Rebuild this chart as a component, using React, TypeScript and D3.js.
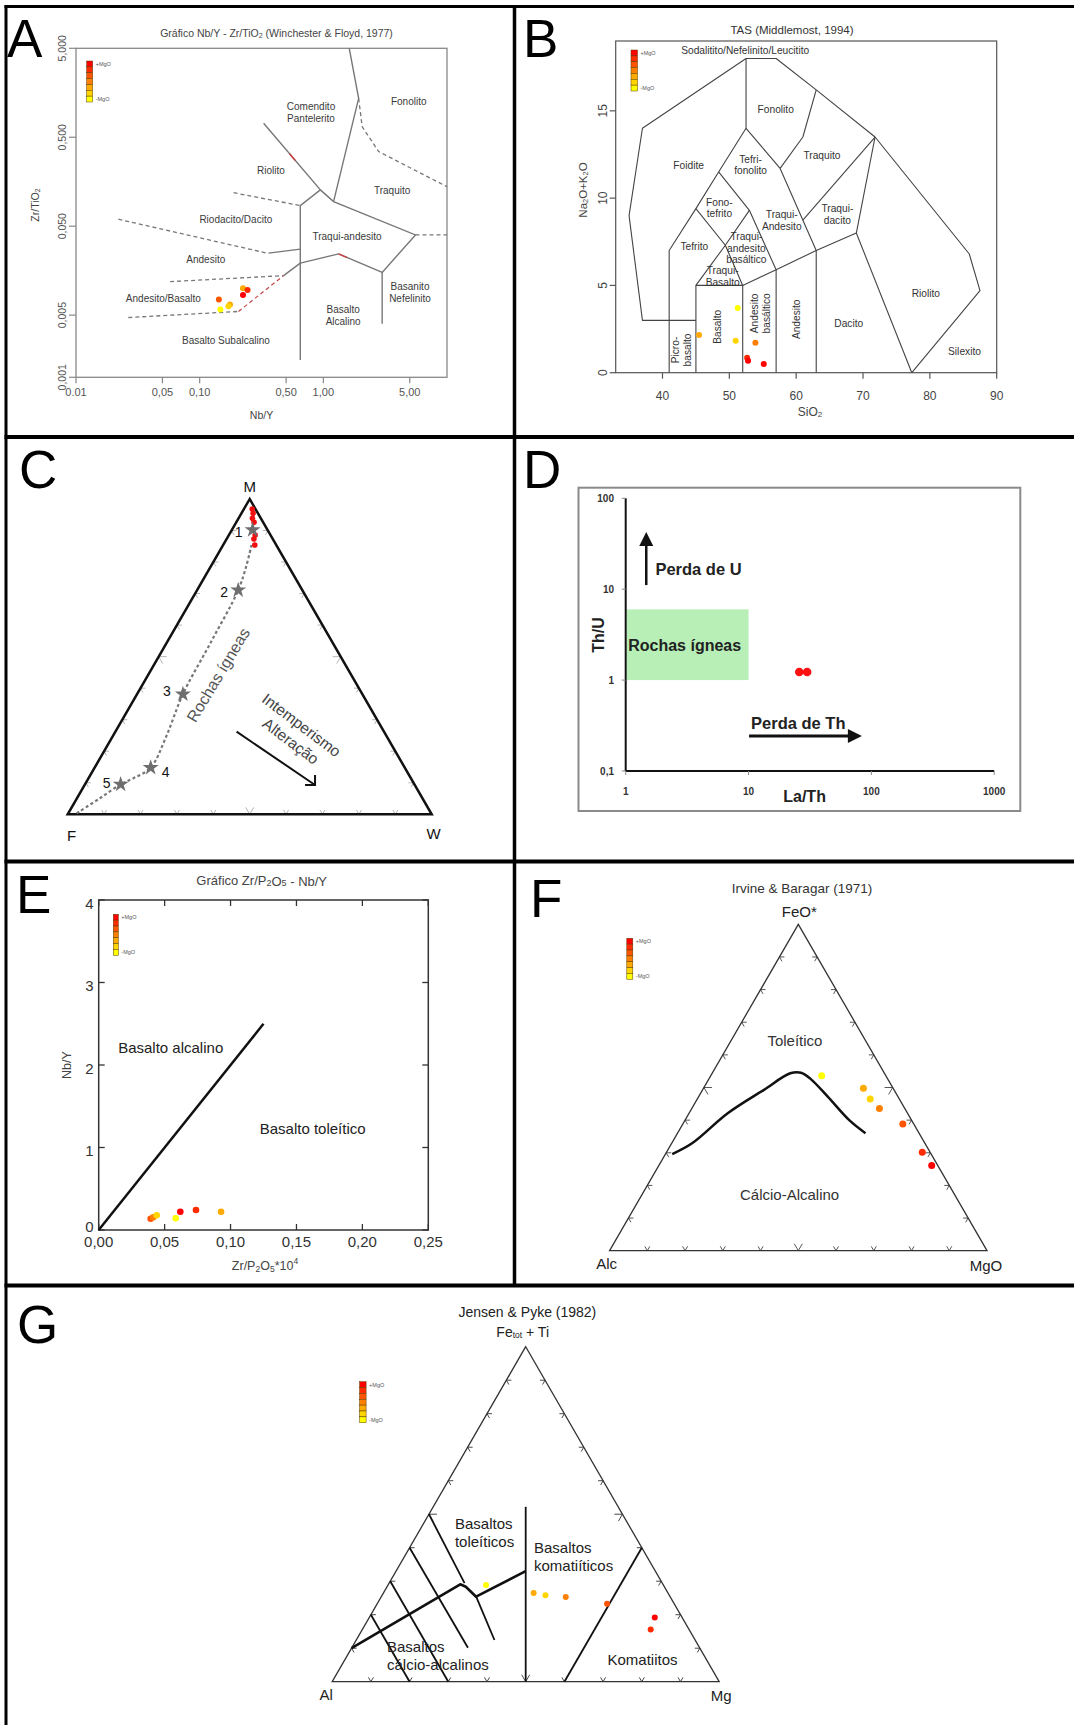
import React from "react";
import * as d3 from "d3";

type Pt = [number, number];

const FONT = "'Liberation Sans', Arial, Helvetica, sans-serif";
const WIDTH = 1074;
const HEIGHT = 1725;

// MgO ranking shared by the colour-coded diagrams: 0 = richest in MgO (red) ... 6 = poorest (yellow)
const mgoLevels = [0, 1, 2, 3, 4, 5, 6];
const mgoColor = d3.scaleLinear<string>().domain([0, 6]).range(["#ff0000", "#ffff00"]).interpolate(d3.interpolateRgb);

// ---------- A: Nb/Y x Zr/TiO2 (Winchester & Floyd, 1977) ----------
const aNbY = [0.224, 0.244, 0.224, 0.143, 0.176, 0.171, 0.147];
const aZrTiO2 = [0.01, 0.0096, 0.0084, 0.0075, 0.0066, 0.0063, 0.0058];
const aMgoRank = [4, 1, 0, 2, 4, 5, 6];
const aXTicks = [0.01, 0.05, 0.1, 0.5, 1, 5];
const aXTickLabels = ["0.01", "0,05", "0,10", "0,50", "1,00", "5,00"];
const aYTicks = [5, 0.5, 0.05, 0.005, 0.001];
const aYTickLabels = ["5,000", "0,500", "0,050", "0,005", "0,001"];
const aSolidLines: Pt[][] = [
  [[1.62, 5], [1.93, 1.37], [1.21, 0.0945]],
  [[0.329, 0.718], [0.946, 0.128], [0.651, 0.0852], [0.651, 0.00157]],
  [[0.946, 0.128], [1.21, 0.0945], [5.56, 0.0399], [2.99, 0.0151], [2.99, 0.004]],
  [[0.651, 0.0192], [1.33, 0.0244], [2.99, 0.0151]],
  [[0.36, 0.0249], [0.651, 0.0276]],
  [[0.477, 0.0139], [0.651, 0.0192]],
];
const aDashedLines: Pt[][] = [
  [[1.93, 1.37], [2.06, 0.658], [2.8, 0.345], [10, 0.139]],
  [[0.188, 0.119], [0.651, 0.0852]],
  [[5.56, 0.0399], [10, 0.0399]],
  [[0.022, 0.0599], [0.35, 0.0249]],
  [[0.0577, 0.0119], [0.477, 0.0139]],
  [[0.0265, 0.0047], [0.206, 0.0055]],
];
const aRedDashed: Pt[] = [[0.206, 0.0055], [0.477, 0.0139]];
const aRedMarks: Pt[][] = [
  [[0.533, 0.326], [0.593, 0.274]],
  [[1.33, 0.0244], [1.556, 0.0222]],
];
const aFieldLabels = [
  { lines: ["Comendito", "Pantelerito"], x: 0.795, y: 0.957 },
  { lines: ["Fonolito"], x: 4.9, y: 1.256 },
  { lines: ["Riolito"], x: 0.377, y: 0.211 },
  { lines: ["Traquito"], x: 3.6, y: 0.1256 },
  { lines: ["Riodacito/Dacito"], x: 0.196, y: 0.0589 },
  { lines: ["Traqui-andesito"], x: 1.555, y: 0.0382 },
  { lines: ["Andesito"], x: 0.112, y: 0.0213 },
  { lines: ["Andesito/Basalto"], x: 0.0509, y: 0.00776 },
  { lines: ["Basanito", "Nefelinito"], x: 5.02, y: 0.00894 },
  { lines: ["Basalto", "Alcalino"], x: 1.446, y: 0.00497 },
  { lines: ["Basalto Subalcalino"], x: 0.163, y: 0.00257 },
];

// ---------- B: TAS (Middlemost, 1994) ----------
const bSiO2 = [51.25, 50.95, 45.47, 53.9, 52.66, 52.8, 55.15];
const bAlkalis = [3.7, 1.83, 2.16, 1.72, 0.86, 0.69, 0.5];
const bMgoRank = [6, 5, 4, 3, 1, 0, 0];
const bXTicks = [40, 50, 60, 70, 80, 90];
const bYTicks = [0, 5, 10, 15];
const bFieldLines: Pt[][] = [
  [[45, 3], [37, 3], [35, 9], [37, 14], [52.5, 18], [57, 18], [63, 16.2], [71.8, 13.5], [85.9, 6.8], [87.5, 4.7], [77.3, 0]],
  [[52.5, 18], [52.5, 14], [48.4, 11.5], [45, 9.4], [41, 7], [41, 0]],
  [[52.5, 14], [57.6, 11.7], [63, 7], [63, 0]],
  [[57.6, 11.7], [61, 13.5], [63, 16.2]],
  [[48.4, 11.5], [53, 9.3], [57, 5.9], [57, 0]],
  [[45, 9.4], [49.4, 7.3], [53, 9.3]],
  [[49.4, 7.3], [45, 5], [52, 5], [49.4, 7.3]],
  [[45, 5], [45, 0]],
  [[52, 5], [52, 0]],
  [[52, 5], [57, 5.9], [63, 7], [69, 8], [71.8, 13.5]],
  [[69, 8], [77.3, 0]],
  [[71.8, 13.5], [61, 8.74]],
];
const bFieldLabels = [
  { lines: ["Sodalitito/Nefelinito/Leucitito"], x: 52.37, y: 18.47, rot: 0, lh: 12 },
  { lines: ["Fonolito"], x: 56.94, y: 15.08, rot: 0, lh: 12 },
  { lines: ["Foidite"], x: 43.91, y: 11.89, rot: 0, lh: 12 },
  { lines: ["Tefri-", "fonolito"], x: 53.18, y: 11.89, rot: 0, lh: 11.5 },
  { lines: ["Traquito"], x: 63.85, y: 12.42, rot: 0, lh: 12 },
  { lines: ["Fono-", "tefrito"], x: 48.51, y: 9.43, rot: 0, lh: 11.2 },
  { lines: ["Traqui-", "Andesito"], x: 57.84, y: 8.72, rot: 0, lh: 12.4 },
  { lines: ["Traqui-", "dacito"], x: 66.16, y: 9.07, rot: 0, lh: 11.8 },
  { lines: ["Tefrito"], x: 44.76, y: 7.25, rot: 0, lh: 12 },
  { lines: ["Traqui-", "andesito", "basáltico"], x: 52.55, y: 7.13, rot: 0, lh: 11.5 },
  { lines: ["Traqui-", "Basalto"], x: 49.0, y: 5.5, rot: 0, lh: 12 },
  { lines: ["Riolito"], x: 79.4, y: 4.54, rot: 0, lh: 12 },
  { lines: ["Dacito"], x: 67.87, y: 2.83, rot: 0, lh: 12 },
  { lines: ["Silexito"], x: 85.18, y: 1.24, rot: 0, lh: 12 },
  { lines: ["Picro-", "basalto"], x: 42.81, y: 1.3, rot: -90, lh: 12.5 },
  { lines: ["Basalto"], x: 48.21, y: 2.63, rot: -90, lh: 12 },
  { lines: ["Andesito", "basáltico"], x: 54.68, y: 3.4, rot: -90, lh: 12.2 },
  { lines: ["Andesito"], x: 59.99, y: 3.06, rot: -90, lh: 12 },
];

// ---------- C: M-F-W ternary ----------
const cSampleM = [0.968, 0.955, 0.939, 0.926, 0.886, 0.873, 0.854];
const cSampleW = [0.023, 0.032, 0.038, 0.049, 0.072, 0.075, 0.087];
const cStarM = [0.902, 0.711, 0.381, 0.148, 0.095];
const cStarW = [0.057, 0.113, 0.126, 0.154, 0.098];
const cStarNames = ["1", "2", "3", "4", "5"];
const cTrendM = [0.003, 0.051, 0.095, 0.114, 0.148, 0.245, 0.381, 0.5465, 0.711, 0.791, 0.854];
const cTrendW = [0.023, 0.063, 0.098, 0.123, 0.154, 0.1475, 0.126, 0.1204, 0.113, 0.096, 0.078];
const cArrowM = [0.262, 0.093];
const cArrowW = [0.333, 0.633];

// ---------- D: La/Th x Th/U ----------
const dLaTh = [25.9, 30.0];
const dThU = [1.23, 1.23];
const dXTicks = [1, 10, 100, 1000];
const dXTickLabels = ["1", "10", "100", "1000"];
const dYTicks = [0.1, 1, 10, 100];
const dYTickLabels = ["0,1", "1", "10", "100"];
const dIgneousLaTh = [1, 10];
const dIgneousThU = [1, 6];

// ---------- E: Zr/P2O5 x Nb/Y ----------
const eZrP2O5 = [0.0394, 0.0414, 0.044, 0.0584, 0.0619, 0.0738, 0.0928];
const eNbY = [0.137, 0.154, 0.178, 0.142, 0.222, 0.242, 0.222];
const eMgoRank = [2, 3, 5, 6, 0, 1, 4];
const eXTicks = [0, 0.05, 0.1, 0.15, 0.2, 0.25];
const eXTickLabels = ["0,00", "0,05", "0,10", "0,15", "0,20", "0,25"];
const eYTicks = [0, 1, 2, 3, 4];
const eDivide: Pt[] = [[0, 0], [0.125, 2.5]];

// ---------- F: AFM (Irvine & Baragar, 1971) ----------
const fFeO = [0.536, 0.498, 0.465, 0.436, 0.388, 0.302, 0.261];
const fMgO = [0.294, 0.4235, 0.458, 0.497, 0.583, 0.6775, 0.723];
const fMgoRank = [6, 4, 5, 3, 2, 1, 0];
const fDivideFeO = [0.296, 0.329, 0.421, 0.492, 0.5435, 0.5453, 0.528, 0.472, 0.4, 0.36];
const fDivideMgO = [0.018, 0.054, 0.1025, 0.162, 0.207, 0.2345, 0.267, 0.342, 0.435, 0.498];

// ---------- G: Jensen & Pyke (1982) cation plot ----------
const gFeTi = [0.289, 0.265, 0.258, 0.253, 0.2325, 0.192, 0.156];
const gMg = [0.253, 0.388, 0.422, 0.477, 0.594, 0.7375, 0.745];
const gMgoRank = [6, 4, 5, 3, 2, 0, 1];
// pairs are [Fe+Ti fraction, Mg fraction]
const gFieldLines: Pt[][] = [
  [[0.5, 0], [0.294, 0.195]],
  [[0.254, 0.245], [0.1245, 0.357]],
  [[0.4, 0], [0.1015, 0.3]],
  [[0.3, 0], [0, 0.3]],
  [[0.2, 0], [0, 0.2]],
  [[0.522, 0.239], [0, 0.5]],
  [[0.4, 0.6], [0, 0.6]],
];
const gThCaBoundary: Pt[] = [[0.33, 0.335], [0.2537, 0.245], [0.2836, 0.2034], [0.2907, 0.1856], [0.1, 0]];

const panelLetters = [
  { t: "A", x: 7, y: 57 },
  { t: "B", x: 523, y: 57 },
  { t: "C", x: 19, y: 488 },
  { t: "D", x: 523, y: 488 },
  { t: "E", x: 16, y: 913 },
  { t: "F", x: 530, y: 917 },
  { t: "G", x: 17, y: 1343 },
];

// ---------------------------------------------------------------

function Label({ x, y, lines, size, fill = "#333", lh = 12, rot = 0, weight = "normal", anchor = "middle" }: any) {
  const n = lines.length;
  return (
    <g transform={`translate(${x},${y})${rot ? ` rotate(${rot})` : ""}`}>
      {lines.map((s: any, i: number) => (
        <text
          key={i}
          x={0}
          y={(i - (n - 1) / 2) * lh}
          fontSize={size}
          fill={fill}
          textAnchor={anchor}
          dominantBaseline="central"
          fontFamily={FONT}
          fontWeight={weight}
        >
          {s}
        </text>
      ))}
    </g>
  );
}

function MgoLegend({ x, y, w = 6, h = 41 }: any) {
  const band = d3.scaleBand<number>().domain(mgoLevels).range([y, y + h]);
  return (
    <g>
      {mgoLevels.map((l) => (
        <rect key={l} x={x} y={band(l)} width={w} height={band.bandwidth()} fill={mgoColor(l)} stroke="#5a3a00" strokeWidth={0.5} />
      ))}
      <text x={x + w + 3} y={y + 3} fontSize={5.5} fill="#555" dominantBaseline="central" fontFamily={FONT}>+MgO</text>
      <text x={x + w + 3} y={y + h - 3} fontSize={5.5} fill="#555" dominantBaseline="central" fontFamily={FONT}>-MgO</text>
    </g>
  );
}

function ternary(leftX: number, rightX: number, baseY: number, topY: number) {
  const sx = d3.scaleLinear().domain([0, 1]).range([leftX, rightX]);
  const sy = d3.scaleLinear().domain([0, 1]).range([baseY, topY]);
  return (top: number, right: number): Pt => [sx(right + top / 2), sy(top)];
}

function TernaryFrame({ p, stroke, width, tickColor, tickLen, bigLen, tickWidth }: any) {
  const T: Pt = p(1, 0), L: Pt = p(0, 0), R: Pt = p(0, 1);
  const unit = (a: Pt, b: Pt): Pt => {
    const dx = b[0] - a[0], dy = b[1] - a[1];
    const n = Math.hypot(dx, dy);
    return [dx / n, dy / n];
  };
  const sides: [Pt, Pt, Pt][] = [[L, R, T], [L, T, R], [R, T, L]];
  let d = "";
  sides.forEach(([A, B, O]) => {
    const u1 = unit(A, O), u2 = unit(B, O);
    d3.range(1, 10).forEach((i) => {
      const f = i / 10;
      const q: Pt = [A[0] + (B[0] - A[0]) * f, A[1] + (B[1] - A[1]) * f];
      const l = i === 5 ? bigLen : tickLen;
      d += `M${q[0] + u1[0] * l},${q[1] + u1[1] * l}L${q[0]},${q[1]}L${q[0] + u2[0] * l},${q[1] + u2[1] * l}`;
    });
  });
  return (
    <g>
      <path d={d} fill="none" stroke={tickColor} strokeWidth={tickWidth} />
      <path d={`M${T}L${L}L${R}Z`} fill="none" stroke={stroke} strokeWidth={width} />
    </g>
  );
}

// ---------------------------------------------------------------

function PanelA() {
  const x = d3.scaleLog().domain([0.01, 10]).range([76, 447]);
  const y = d3.scaleLog().domain([0.001, 5]).range([377.3, 48.3]);
  const line = d3.line<Pt>().x((d) => x(d[0])).y((d) => y(d[1]));
  const [x0, x1] = x.range();
  const [y0, y1] = y.range();
  return (
    <g fontFamily={FONT}>
      <text x={(x0 + x1) / 2 + 15} y={33} fontSize={10.5} fill="#444" textAnchor="middle" dominantBaseline="central">
        Gráfico Nb/Y - Zr/TiO<tspan fontSize={7} dy={2}>2</tspan>
        <tspan dy={-2}> (Winchester {"&"} Floyd, 1977)</tspan>
      </text>
      <rect x={x0} y={y1} width={x1 - x0} height={y0 - y1} fill="none" stroke="#888" strokeWidth={1.3} />
      {aSolidLines.map((l, i) => (
        <path key={"s" + i} d={line(l) || ""} fill="none" stroke="#777" strokeWidth={1.4} />
      ))}
      {aDashedLines.map((l, i) => (
        <path key={"d" + i} d={line(l) || ""} fill="none" stroke="#777" strokeWidth={1.3} strokeDasharray="4 3" />
      ))}
      <path d={line(aRedDashed) || ""} fill="none" stroke="#c04848" strokeWidth={1.2} strokeDasharray="4 3" />
      {aRedMarks.map((l, i) => (
        <path key={"r" + i} d={line(l) || ""} fill="none" stroke="#d04040" strokeWidth={1.4} />
      ))}
      {aXTicks.map((t, i) => (
        <g key={"xt" + i}>
          <line x1={x(t)} x2={x(t)} y1={y0} y2={y0 + 6} stroke="#888" strokeWidth={1.2} />
          <text x={x(t)} y={y0 + 15} fontSize={11} fill="#555" textAnchor="middle" dominantBaseline="central">{aXTickLabels[i]}</text>
        </g>
      ))}
      {aYTicks.map((t, i) => (
        <g key={"yt" + i}>
          <line x1={x0 - 7} x2={x0} y1={y(t)} y2={y(t)} stroke="#888" strokeWidth={1.2} />
          <text
            x={x0 - 14}
            y={y(t)}
            fontSize={10.5}
            fill="#555"
            textAnchor="middle"
            dominantBaseline="central"
            transform={`rotate(-90,${x0 - 14},${y(t)})`}
          >
            {aYTickLabels[i]}
          </text>
        </g>
      ))}
      <text x={(x0 + x1) / 2} y={415} fontSize={10.5} fill="#444" textAnchor="middle" dominantBaseline="central">Nb/Y</text>
      <text x={35} y={205} fontSize={10.5} fill="#444" textAnchor="middle" dominantBaseline="central" transform="rotate(-90,35,205)">
        Zr/TiO<tspan fontSize={7} dy={2}>2</tspan>
      </text>
      {aFieldLabels.map((f, i) => (
        <Label key={i} x={x(f.x)} y={y(f.y)} lines={f.lines} size={10} fill="#3a3a3a" lh={12.3} />
      ))}
      <MgoLegend x={86.7} y={61} />
      {aNbY.map((v, i) => (
        <circle key={i} cx={x(v)} cy={y(aZrTiO2[i])} r={3} fill={mgoColor(aMgoRank[i])} />
      ))}
    </g>
  );
}

function PanelB() {
  const x = d3.scaleLinear().domain([33, 90]).range([615.7, 996.7]);
  const y = d3.scaleLinear().domain([0, 19]).range([372.7, 41]);
  const line = d3.line<Pt>().x((d) => x(d[0])).y((d) => y(d[1]));
  const [x0, x1] = x.range();
  const [y0, y1] = y.range();
  return (
    <g fontFamily={FONT}>
      <text x={792} y={30} fontSize={11.5} fill="#333" textAnchor="middle" dominantBaseline="central">TAS (Middlemost, 1994)</text>
      <rect x={x0} y={y1} width={x1 - x0} height={y0 - y1} fill="none" stroke="#555" strokeWidth={1.2} />
      {bFieldLines.map((l, i) => (
        <path key={i} d={line(l) || ""} fill="none" stroke="#444" strokeWidth={1.1} strokeLinejoin="round" />
      ))}
      {bXTicks.map((t) => (
        <g key={"xt" + t}>
          <line x1={x(t)} x2={x(t)} y1={y0} y2={y0 + 6} stroke="#555" strokeWidth={1.2} />
          <text x={x(t)} y={y0 + 23} fontSize={12} fill="#444" textAnchor="middle" dominantBaseline="central">{t}</text>
        </g>
      ))}
      {bYTicks.map((t) => (
        <g key={"yt" + t}>
          <line x1={x0 - 6} x2={x0} y1={y(t)} y2={y(t)} stroke="#555" strokeWidth={1.2} />
          <text x={x0 - 13} y={y(t)} fontSize={12} fill="#444" textAnchor="middle" dominantBaseline="central" transform={`rotate(-90,${x0 - 13},${y(t)})`}>
            {t}
          </text>
        </g>
      ))}
      <text x={810} y={411.7} fontSize={12} fill="#444" textAnchor="middle" dominantBaseline="central">
        SiO<tspan fontSize={8} dy={2.5}>2</tspan>
      </text>
      <text x={582.8} y={190} fontSize={11.5} fill="#444" textAnchor="middle" dominantBaseline="central" transform="rotate(-90,582.8,190)">
        Na<tspan fontSize={7.5} dy={2.5}>2</tspan>
        <tspan dy={-2.5}>O+K</tspan>
        <tspan fontSize={7.5} dy={2.5}>2</tspan>
        <tspan dy={-2.5}>O</tspan>
      </text>
      {bFieldLabels.map((f, i) => (
        <Label key={i} x={x(f.x)} y={y(f.y)} lines={f.lines} rot={f.rot} size={10.2} fill="#333" lh={f.lh} />
      ))}
      <MgoLegend x={631} y={50} w={6.5} />
      {bSiO2.map((v, i) => (
        <circle key={i} cx={x(v)} cy={y(bAlkalis[i])} r={3} fill={mgoColor(bMgoRank[i])} />
      ))}
    </g>
  );
}

function PanelC() {
  const p = ternary(67.7, 431.7, 814.3, 499);
  const T = p(1, 0), L = p(0, 0), R = p(0, 1);
  const trend = d3
    .line<number>()
    .x((_, i) => p(cTrendM[i], cTrendW[i])[0])
    .y((_, i) => p(cTrendM[i], cTrendW[i])[1])
    .curve(d3.curveCatmullRom.alpha(0.5));
  const star = d3.symbol().type(d3.symbolStar).size(80)();
  const numOffsets: Pt[] = [[-14, 2], [-14, 2], [-16, -3], [15, 4], [-14, -1]];
  const a0 = p(cArrowM[0], cArrowW[0]);
  const a1 = p(cArrowM[1], cArrowW[1]);
  const rl = p(0.442, 0.193);
  const it = p(0.283, 0.501);
  const al = p(0.232, 0.497);
  return (
    <g fontFamily={FONT}>
      <TernaryFrame p={p} stroke="#111" width={2.5} tickColor="#b5b5b5" tickWidth={1} tickLen={5} bigLen={8} />
      <text x={T[0]} y={T[1] - 13} fontSize={15} fill="#111" textAnchor="middle" dominantBaseline="central">M</text>
      <text x={L[0] + 4} y={L[1] + 21} fontSize={15} fill="#111" textAnchor="middle" dominantBaseline="central">F</text>
      <text x={R[0] + 2} y={R[1] + 19} fontSize={15} fill="#111" textAnchor="middle" dominantBaseline="central">W</text>
      <path d={trend(cTrendM) || ""} fill="none" stroke="#777" strokeWidth={2.2} strokeDasharray="3 2.5" />
      {cSampleM.map((m, i) => {
        const q = p(m, cSampleW[i]);
        return <circle key={"s" + i} cx={q[0]} cy={q[1]} r={2.8} fill="#f01010" />;
      })}
      {cStarM.map((m, i) => {
        const q = p(m, cStarW[i]);
        return (
          <g key={"st" + i}>
            <path d={star || ""} transform={`translate(${q[0]},${q[1]})`} fill="#6e6e6e" />
            <text x={q[0] + numOffsets[i][0]} y={q[1] + numOffsets[i][1]} fontSize={14} fill="#111" textAnchor="middle" dominantBaseline="central">
              {cStarNames[i]}
            </text>
          </g>
        );
      })}
      <text x={rl[0]} y={rl[1]} fontSize={16} fill="#555" textAnchor="middle" dominantBaseline="central" transform={`rotate(-59,${rl[0]},${rl[1]})`}>
        Rochas ígneas
      </text>
      <text x={it[0]} y={it[1]} fontSize={15.5} fill="#444" textAnchor="middle" dominantBaseline="central" transform={`rotate(37,${it[0]},${it[1]})`}>
        Intemperismo
      </text>
      <text x={al[0]} y={al[1]} fontSize={15.5} fill="#444" textAnchor="middle" dominantBaseline="central" transform={`rotate(37,${al[0]},${al[1]})`}>
        Alteração
      </text>
      <line x1={a0[0]} y1={a0[1]} x2={a1[0]} y2={a1[1]} stroke="#111" strokeWidth={2} />
      <path d={`M${a1[0] - 10},${a1[1]}L${a1[0]},${a1[1]}L${a1[0]},${a1[1] - 10}`} fill="none" stroke="#111" strokeWidth={2} />
    </g>
  );
}

function PanelD() {
  const x = d3.scaleLog().domain([1, 1000]).range([625.7, 994.2]);
  const y = d3.scaleLog().domain([0.1, 100]).range([771, 498.3]);
  const upX = x(1.47), upY0 = y(11.1), upY1 = y(42.6);
  const rtY = y(0.2425), rtX0 = x(10.1), rtX1 = x(83.7);
  return (
    <g fontFamily={FONT}>
      <rect x={578.5} y={487.7} width={441.8} height={323.3} fill="none" stroke="#8a8a8a" strokeWidth={2} />
      <rect
        x={x(dIgneousLaTh[0]) + 1}
        y={y(dIgneousThU[1])}
        width={x(dIgneousLaTh[1]) - x(dIgneousLaTh[0]) - 1}
        height={y(dIgneousThU[0]) - y(dIgneousThU[1])}
        fill="#b7efb7"
      />
      <line x1={x(1)} x2={x(1000)} y1={y(0.1)} y2={y(0.1)} stroke="#111" strokeWidth={2} />
      <line x1={x(1)} x2={x(1)} y1={y(0.1)} y2={y(100)} stroke="#111" strokeWidth={2} />
      {dXTicks.map((t, i) => (
        <g key={"xt" + i}>
          <line x1={x(t)} x2={x(t)} y1={y(0.1)} y2={y(0.1) + 4} stroke="#888" strokeWidth={1} />
          <text x={x(t)} y={791} fontSize={10} fontWeight="bold" fill="#333" textAnchor="middle" dominantBaseline="central">{dXTickLabels[i]}</text>
        </g>
      ))}
      {dYTicks.map((t, i) => (
        <g key={"yt" + i}>
          <line x1={x(1) - 4} x2={x(1)} y1={y(t)} y2={y(t)} stroke="#888" strokeWidth={1} />
          <text x={614} y={y(t)} fontSize={10} fontWeight="bold" fill="#333" textAnchor="end" dominantBaseline="central">{dYTickLabels[i]}</text>
        </g>
      ))}
      <text x={598} y={635} fontSize={16} fontWeight="bold" fill="#222" textAnchor="middle" dominantBaseline="central" transform="rotate(-90,598,635)">Th/U</text>
      <text x={804.6} y={796.7} fontSize={16} fontWeight="bold" fill="#222" textAnchor="middle" dominantBaseline="central">La/Th</text>
      <text x={x(3.02)} y={y(2.42)} fontSize={16} fontWeight="bold" fill="#222" textAnchor="middle" dominantBaseline="central">Rochas ígneas</text>
      <line x1={upX} x2={upX} y1={upY0} y2={upY1 + 10} stroke="#111" strokeWidth={2.5} />
      <path d={`M${upX},${upY1}L${upX - 7},${upY1 + 14}L${upX + 7},${upY1 + 14}Z`} fill="#111" />
      <text x={x(1.745)} y={y(16.6)} fontSize={16.5} fontWeight="bold" fill="#222" dominantBaseline="central">Perda de U</text>
      <line x1={rtX0} x2={rtX1 - 10} y1={rtY} y2={rtY} stroke="#111" strokeWidth={3} />
      <path d={`M${rtX1},${rtY}L${rtX1 - 14},${rtY - 7}L${rtX1 - 14},${rtY + 7}Z`} fill="#111" />
      <text x={x(10.48)} y={y(0.334)} fontSize={16.5} fontWeight="bold" fill="#222" dominantBaseline="central">Perda de Th</text>
      {dLaTh.map((v, i) => (
        <circle key={i} cx={x(v)} cy={y(dThU[i])} r={4.3} fill="#ff1010" />
      ))}
    </g>
  );
}

function PanelE() {
  const x = d3.scaleLinear().domain([0, 0.25]).range([98.7, 428.3]);
  const y = d3.scaleLinear().domain([0, 4]).range([1230, 900]);
  const line = d3.line<Pt>().x((d) => x(d[0])).y((d) => y(d[1]));
  const [x0, x1] = x.range();
  const [y0, y1] = y.range();
  return (
    <g fontFamily={FONT}>
      <text x={261.7} y={880.7} fontSize={13} fill="#444" textAnchor="middle" dominantBaseline="central">
        Gráfico Zr/P<tspan fontSize={9} dy={2.5}>2</tspan>
        <tspan dy={-2.5}>O</tspan>
        <tspan fontSize={9} dy={2.5}>5</tspan>
        <tspan dy={-2.5}> - Nb/Y</tspan>
      </text>
      <rect x={x0} y={y1} width={x1 - x0} height={y0 - y1} fill="none" stroke="#333" strokeWidth={1.5} />
      {eXTicks.map((t, i) => (
        <g key={"xt" + i}>
          <line x1={x(t)} x2={x(t)} y1={y0} y2={y0 - 6} stroke="#333" strokeWidth={1.3} />
          <line x1={x(t)} x2={x(t)} y1={y1} y2={y1 + 6} stroke="#333" strokeWidth={1.3} />
          <text x={x(t)} y={1241.7} fontSize={15} fill="#333" textAnchor="middle" dominantBaseline="central">{eXTickLabels[i]}</text>
        </g>
      ))}
      {eYTicks.map((t) => (
        <g key={"yt" + t}>
          <line x1={x0} x2={x0 + 6} y1={y(t)} y2={y(t)} stroke="#333" strokeWidth={1.3} />
          <line x1={x1} x2={x1 - 6} y1={y(t)} y2={y(t)} stroke="#333" strokeWidth={1.3} />
          <text x={93.5} y={y(t) + (t === 0 ? -4 : 3)} fontSize={15} fill="#333" textAnchor="end" dominantBaseline="central">{t}</text>
        </g>
      ))}
      <text x={66.7} y={1065} fontSize={12.5} fill="#444" textAnchor="middle" dominantBaseline="central" transform="rotate(-90,66.7,1065)">Nb/Y</text>
      <text x={265} y={1266} fontSize={12.5} fill="#444" textAnchor="middle" dominantBaseline="central">
        Zr/P<tspan fontSize={8.5} dy={2.5}>2</tspan>
        <tspan dy={-2.5}>O</tspan>
        <tspan fontSize={8.5} dy={2.5}>5</tspan>
        <tspan dy={-2.5}>*10</tspan>
        <tspan fontSize={8.5} dy={-5}>4</tspan>
      </text>
      <path d={line(eDivide) || ""} fill="none" stroke="#111" strokeWidth={2.5} />
      <text x={170.7} y={1047.7} fontSize={15} fill="#222" textAnchor="middle" dominantBaseline="central">Basalto alcalino</text>
      <text x={312.7} y={1128.3} fontSize={15} fill="#222" textAnchor="middle" dominantBaseline="central">Basalto toleítico</text>
      <MgoLegend x={113.3} y={914.3} w={5} />
      {eZrP2O5.map((v, i) => (
        <circle key={i} cx={x(v)} cy={y(eNbY[i])} r={3.3} fill={mgoColor(eMgoRank[i])} />
      ))}
    </g>
  );
}

function PanelF() {
  const p = ternary(609.6, 987, 1250.7, 924.3);
  const T = p(1, 0), L = p(0, 0), R = p(0, 1);
  const divide = d3
    .line<number>()
    .x((_, i) => p(fDivideFeO[i], fDivideMgO[i])[0])
    .y((_, i) => p(fDivideFeO[i], fDivideMgO[i])[1])
    .curve(d3.curveCatmullRom.alpha(0.5));
  const tol = p(0.6434, 0.1693);
  const ca = p(0.1728, 0.3906);
  return (
    <g fontFamily={FONT}>
      <text x={802} y={888.3} fontSize={13.5} fill="#333" textAnchor="middle" dominantBaseline="central">Irvine {"&"} Baragar (1971)</text>
      <text x={T[0] + 1} y={T[1] - 12.6} fontSize={15} fill="#222" textAnchor="middle" dominantBaseline="central">FeO*</text>
      <TernaryFrame p={p} stroke="#333" width={1.3} tickColor="#444" tickWidth={0.9} tickLen={5} bigLen={8} />
      <text x={L[0] - 3} y={L[1] + 13} fontSize={15} fill="#222" textAnchor="middle" dominantBaseline="central">Alc</text>
      <text x={R[0] - 1} y={R[1] + 14.5} fontSize={15} fill="#222" textAnchor="middle" dominantBaseline="central">MgO</text>
      <path d={divide(fDivideFeO) || ""} fill="none" stroke="#111" strokeWidth={2.5} />
      <text x={tol[0]} y={tol[1]} fontSize={15} fill="#333" textAnchor="middle" dominantBaseline="central">Toleítico</text>
      <text x={ca[0]} y={ca[1]} fontSize={15} fill="#333" textAnchor="middle" dominantBaseline="central">Cálcio-Alcalino</text>
      <MgoLegend x={626.8} y={938.3} />
      {fFeO.map((v, i) => {
        const q = p(v, fMgO[i]);
        return <circle key={i} cx={q[0]} cy={q[1]} r={3.5} fill={mgoColor(fMgoRank[i])} />;
      })}
    </g>
  );
}

function PanelG() {
  const p = ternary(332.2, 719.2, 1681.7, 1346.7);
  const T = p(1, 0), L = p(0, 0), R = p(0, 1);
  const line = d3.line<Pt>().x((d) => p(d[0], d[1])[0]).y((d) => p(d[0], d[1])[1]);
  const th = p(0.4463, 0.094);
  const bk = p(0.373, 0.335);
  const ca = p(0.0797, 0.1018);
  const ko = p(0.0648, 0.7695);
  return (
    <g fontFamily={FONT}>
      <text x={527.4} y={1311.7} fontSize={14} fill="#222" textAnchor="middle" dominantBaseline="central">Jensen {"&"} Pyke (1982)</text>
      <text x={T[0] - 3} y={1331.7} fontSize={14} fill="#222" textAnchor="middle" dominantBaseline="central">
        Fe<tspan fontSize={8.5} dy={3}>tot</tspan>
        <tspan dy={-3}> + Ti</tspan>
      </text>
      <TernaryFrame p={p} stroke="#333" width={1.3} tickColor="#333" tickWidth={0.9} tickLen={5} bigLen={8} />
      <text x={L[0] - 6} y={L[1] + 13} fontSize={15} fill="#222" textAnchor="middle" dominantBaseline="central">Al</text>
      <text x={R[0] + 2} y={R[1] + 14} fontSize={15} fill="#222" textAnchor="middle" dominantBaseline="central">Mg</text>
      {gFieldLines.map((l, i) => (
        <path key={i} d={line(l) || ""} fill="none" stroke="#111" strokeWidth={1.8} />
      ))}
      <path d={line(gThCaBoundary) || ""} fill="none" stroke="#111" strokeWidth={2.6} strokeLinejoin="round" />
      <Label x={th[0]} y={th[1]} lines={["Basaltos", "toleíticos"]} size={15} fill="#222" lh={18} anchor="start" />
      <Label x={bk[0]} y={bk[1]} lines={["Basaltos", "komatiíticos"]} size={15} fill="#222" lh={18} anchor="start" />
      <Label x={ca[0]} y={ca[1]} lines={["Basaltos", "cálcio-alcalinos"]} size={15} fill="#222" lh={18} anchor="start" />
      <Label x={ko[0]} y={ko[1]} lines={["Komatiitos"]} size={15} fill="#222" />
      <MgoLegend x={359.6} y={1381.7} w={6.5} />
      {gFeTi.map((v, i) => {
        const q = p(v, gMg[i]);
        return <circle key={i} cx={q[0]} cy={q[1]} r={3} fill={mgoColor(gMgoRank[i])} />;
      })}
    </g>
  );
}

function Frame() {
  return (
    <g stroke="#000" fill="none">
      <line x1={4.5} x2={WIDTH} y1={6.5} y2={6.5} strokeWidth={3} />
      <line x1={6} x2={6} y1={5} y2={HEIGHT} strokeWidth={3} />
      <line x1={514.5} x2={514.5} y1={5} y2={1286} strokeWidth={3.5} />
      <line x1={4.5} x2={WIDTH} y1={437} y2={437} strokeWidth={4} />
      <line x1={4.5} x2={WIDTH} y1={861.5} y2={861.5} strokeWidth={4} />
      <line x1={4.5} x2={WIDTH} y1={1285.5} y2={1285.5} strokeWidth={4} />
    </g>
  );
}

export default function App() {
  return (
    <svg
      width={WIDTH}
      height={HEIGHT}
      viewBox={`0 0 ${WIDTH} ${HEIGHT}`}
      style={{ position: "absolute", left: 0, top: 0, background: "#fff" }}
    >
      <rect width={WIDTH} height={HEIGHT} fill="#fff" />
      <PanelA />
      <PanelB />
      <PanelC />
      <PanelD />
      <PanelE />
      <PanelF />
      <PanelG />
      <Frame />
      {panelLetters.map((l) => (
        <text key={l.t} x={l.x} y={l.y} fontSize={53} fill="#000" fontFamily={FONT}>
          {l.t}
        </text>
      ))}
    </svg>
  );
}
